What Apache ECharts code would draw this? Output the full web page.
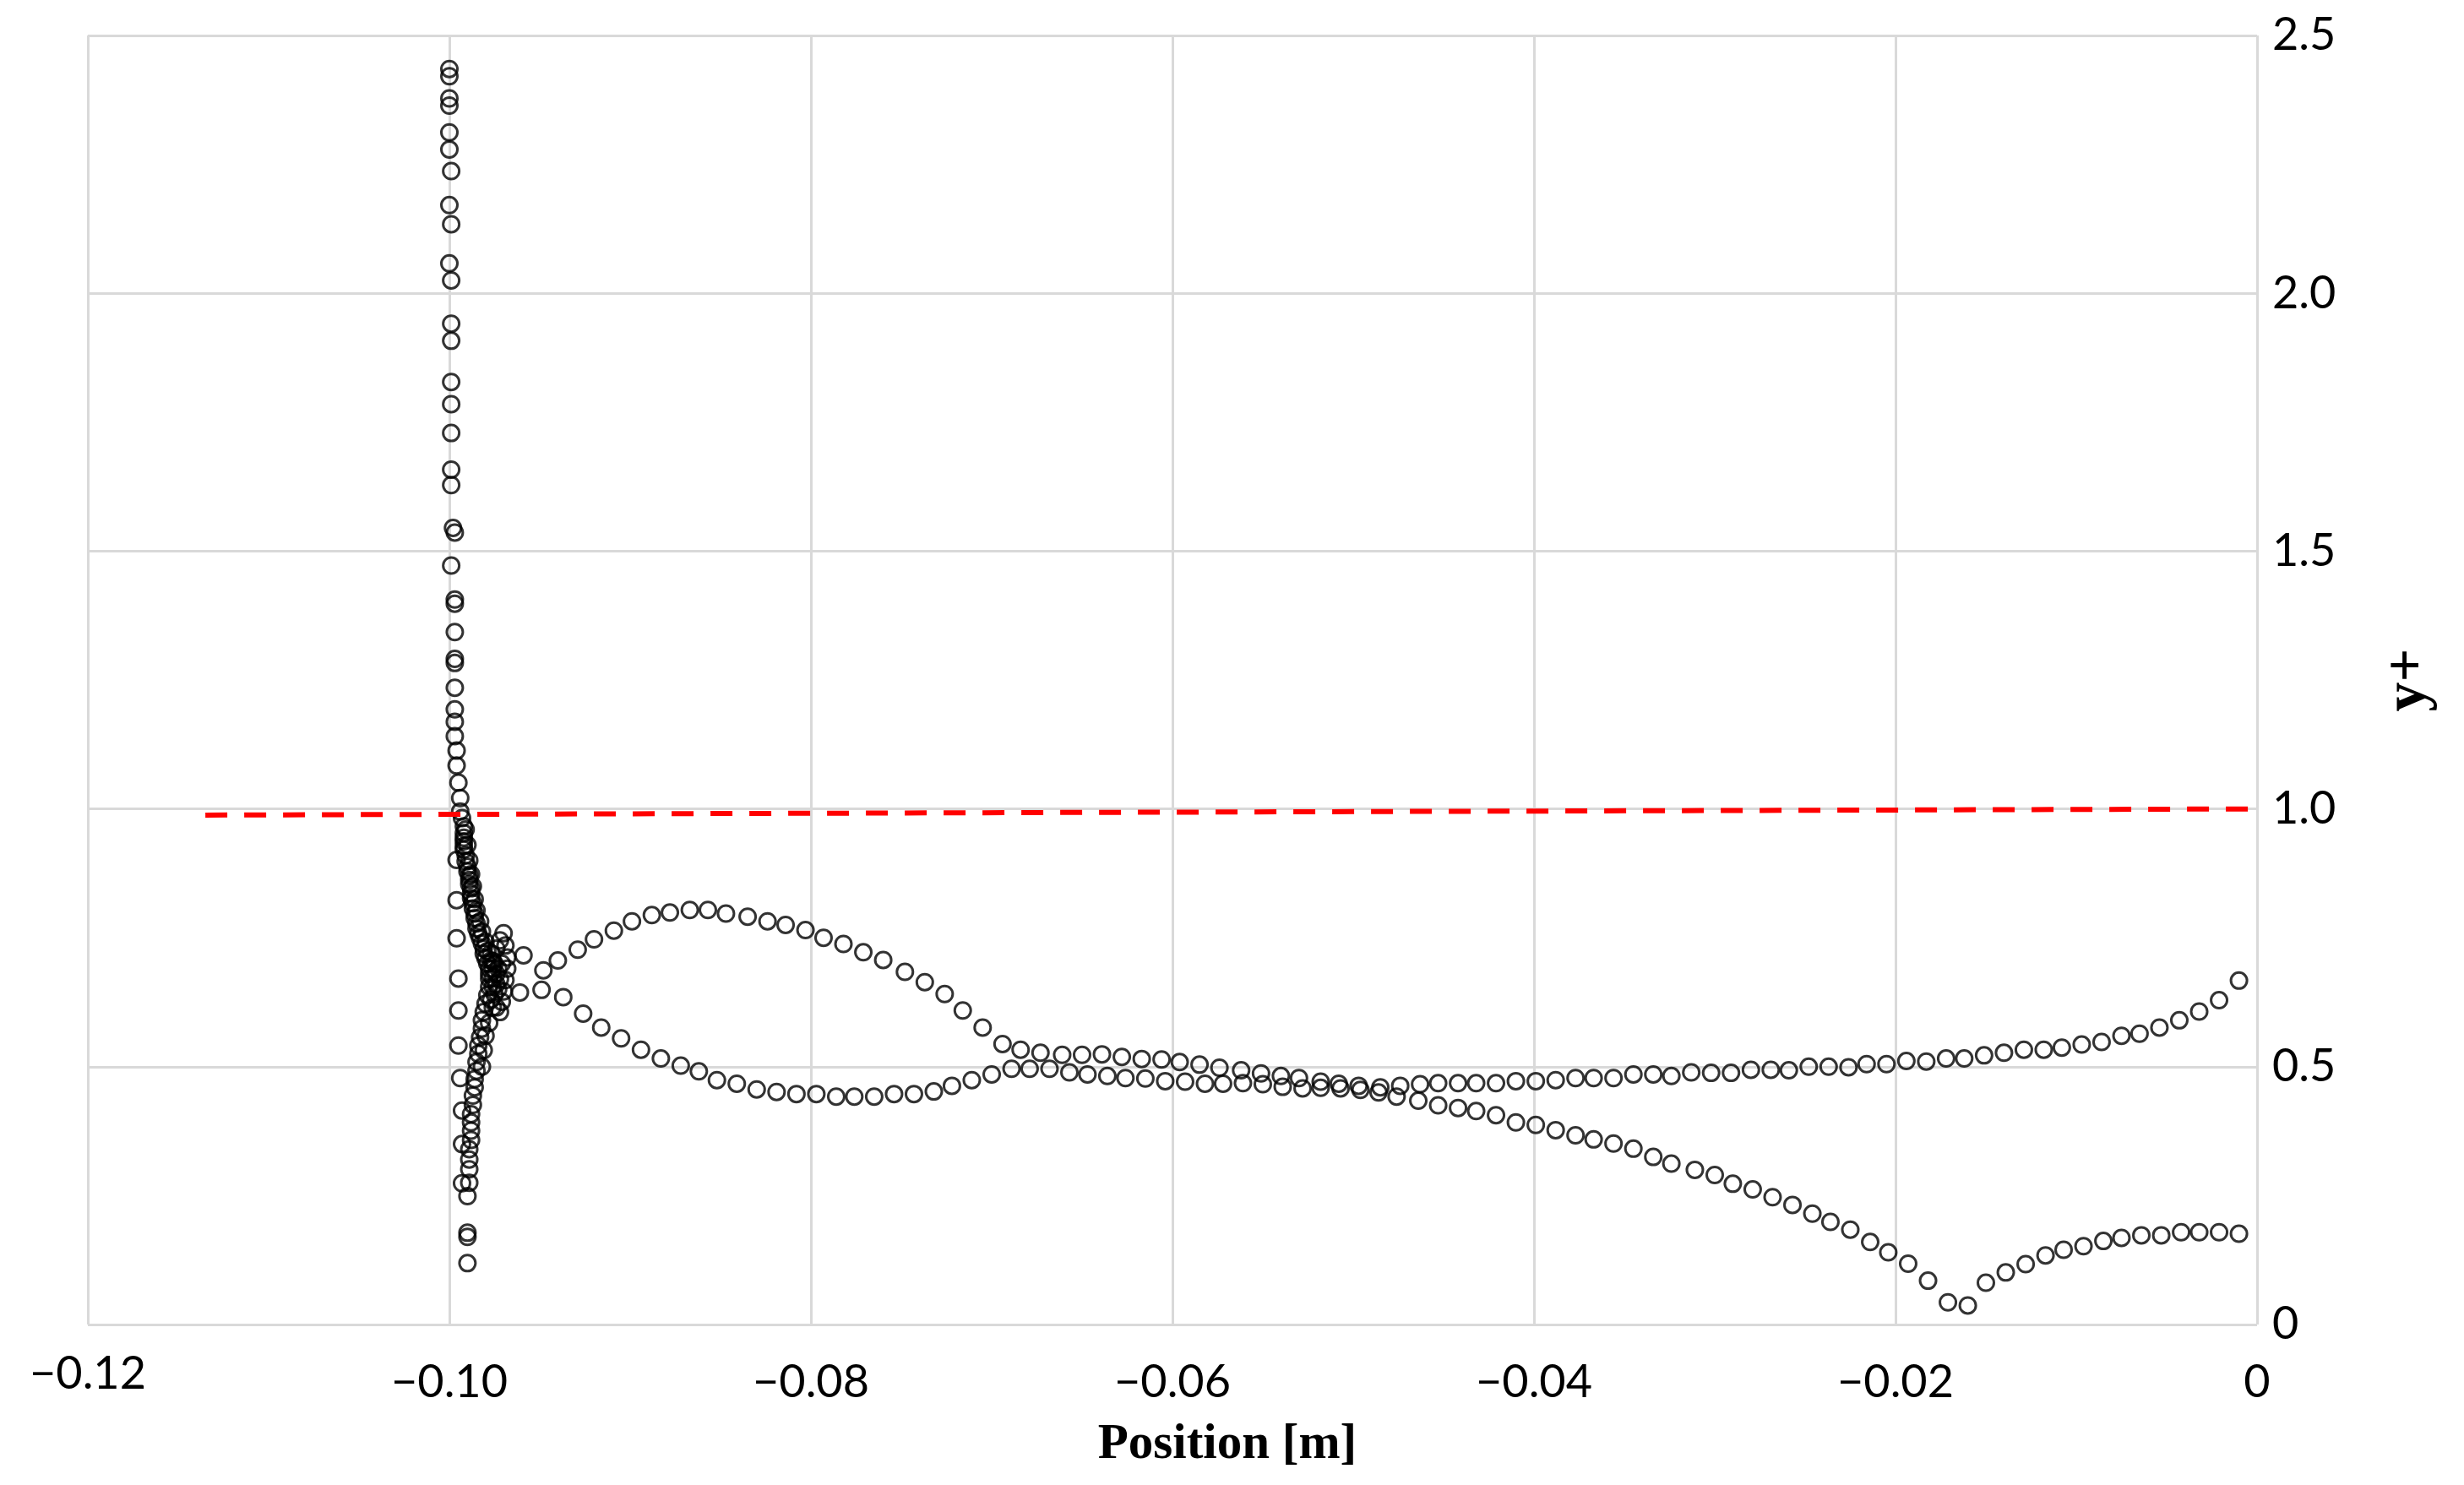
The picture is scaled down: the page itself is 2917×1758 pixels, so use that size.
<!DOCTYPE html>
<html>
<head>
<meta charset="utf-8">
<title>y+ vs Position</title>
<script src="https://cdn.jsdelivr.net/npm/echarts@6/dist/echarts.min.js"></script>
<style>
  html, body { margin: 0; padding: 0; background: #ffffff; }
  #chart { width: 2917px; height: 1758px; }
</style>
</head>
<body>
<div id="chart"></div>
<script>
// ---------------- DATA ----------------
const xTickLabels = ['\u22120.12', '\u22120.10', '\u22120.08', '\u22120.06', '\u22120.04', '\u22120.02', '0'];
const yTickLabels = ['0', '0.5', '1.0', '1.5', '2.0', '2.5'];

// Leading-edge column (upper part, y+ > 1)
const leadingEdgeUpper = [
  [-0.1000, 2.435], [-0.1000, 2.421], [-0.1000, 2.378], [-0.1000, 2.364], [-0.1000, 2.312],
  [-0.1000, 2.279], [-0.0999, 2.237], [-0.1000, 2.171], [-0.0999, 2.134], [-0.1000, 2.058],
  [-0.0999, 2.025], [-0.0999, 1.941], [-0.0999, 1.908], [-0.0999, 1.828], [-0.0999, 1.785],
  [-0.0999, 1.729], [-0.0999, 1.658], [-0.0999, 1.628], [-0.0998, 1.545], [-0.0997, 1.536],
  [-0.0999, 1.472], [-0.0997, 1.406], [-0.0997, 1.398], [-0.0997, 1.343], [-0.0997, 1.291],
  [-0.0997, 1.283], [-0.0997, 1.235], [-0.0997, 1.193], [-0.0997, 1.169], [-0.0997, 1.141],
  [-0.0996, 1.113], [-0.0996, 1.084], [-0.0995, 1.051], [-0.0994, 1.021], [-0.0994, 0.995]
];

// Leading-edge column (sparse outer points, y+ < 1)
const leadingEdgeOuter = [
  [-0.0996, 0.901], [-0.0996, 0.823], [-0.0996, 0.749], [-0.0995, 0.671], [-0.0995, 0.609],
  [-0.0995, 0.541], [-0.0994, 0.478], [-0.0993, 0.415], [-0.0993, 0.350], [-0.0993, 0.274],
  [-0.0990, 0.178], [-0.0990, 0.170], [-0.0990, 0.119]
];

// Dense band from y+ = 1 down to the junction
const junctionUpper = [
  [-0.0993, 0.982], [-0.0992, 0.966], [-0.0992, 0.953], [-0.0992, 0.944], [-0.0992, 0.937],
  [-0.0992, 0.928], [-0.0992, 0.921], [-0.0991, 0.910], [-0.0991, 0.898], [-0.0990, 0.888],
  [-0.0990, 0.879], [-0.0989, 0.870], [-0.0989, 0.862], [-0.0989, 0.854], [-0.0988, 0.846],
  [-0.0988, 0.836], [-0.0988, 0.827], [-0.0987, 0.817], [-0.0987, 0.807], [-0.0986, 0.797],
  [-0.0986, 0.788], [-0.0985, 0.778], [-0.0985, 0.768], [-0.0984, 0.758], [-0.0983, 0.749],
  [-0.0982, 0.739], [-0.0981, 0.729], [-0.0981, 0.719], [-0.0980, 0.710], [-0.0979, 0.700],
  [-0.0978, 0.690], [-0.0978, 0.680], [-0.0978, 0.671]
];

// Second, slightly offset strand of the same band
const junctionUpperInner = [
  [-0.0991, 0.960], [-0.0990, 0.930], [-0.0989, 0.900], [-0.0988, 0.873], [-0.0987, 0.850],
  [-0.0986, 0.825], [-0.0985, 0.803], [-0.0983, 0.782], [-0.0982, 0.762], [-0.0980, 0.742],
  [-0.0979, 0.724], [-0.0977, 0.706], [-0.0976, 0.690]
];

// Points bunched at the junction
const junctionCore = [
  [-0.0970, 0.759], [-0.0969, 0.735], [-0.0968, 0.712], [-0.0968, 0.690], [-0.0969, 0.668],
  [-0.0970, 0.646], [-0.0971, 0.626], [-0.0972, 0.606], [-0.0975, 0.700], [-0.0974, 0.680],
  [-0.0974, 0.660], [-0.0975, 0.640], [-0.0976, 0.655], [-0.0974, 0.729], [-0.0977, 0.720],
  [-0.0976, 0.705], [-0.0973, 0.690], [-0.0972, 0.670], [-0.0973, 0.650], [-0.0977, 0.630],
  [-0.0972, 0.745], [-0.0974, 0.615], [-0.0971, 0.700], [-0.0976, 0.672]
];

// Dense band from the junction down
const junctionLower = [
  [-0.0978, 0.655], [-0.0979, 0.639], [-0.0980, 0.622], [-0.0981, 0.606], [-0.0982, 0.590],
  [-0.0982, 0.574], [-0.0983, 0.557], [-0.0984, 0.541], [-0.0984, 0.525], [-0.0985, 0.509],
  [-0.0985, 0.492], [-0.0986, 0.476], [-0.0986, 0.460], [-0.0987, 0.444], [-0.0987, 0.426],
  [-0.0988, 0.408], [-0.0988, 0.392], [-0.0988, 0.376], [-0.0988, 0.358], [-0.0989, 0.340],
  [-0.0989, 0.320], [-0.0989, 0.301], [-0.0989, 0.275], [-0.0990, 0.249],
  [-0.0976, 0.615], [-0.0978, 0.585], [-0.0980, 0.560], [-0.0981, 0.532], [-0.0982, 0.500]
];

// Surface A: rises to the 0.8 peak, then falls to the minimum near -0.016
const surfaceA = [
  [-0.0961, 0.644], [-0.0948, 0.687], [-0.0940, 0.706], [-0.0929, 0.727], [-0.0920, 0.747],
  [-0.0909, 0.764], [-0.0899, 0.782], [-0.0888, 0.794], [-0.0878, 0.799], [-0.0867, 0.804],
  [-0.0857, 0.804], [-0.0847, 0.797], [-0.0835, 0.791], [-0.0824, 0.782], [-0.0814, 0.775],
  [-0.0803, 0.765], [-0.0793, 0.750], [-0.0782, 0.738], [-0.0771, 0.722], [-0.0760, 0.707],
  [-0.0748, 0.684], [-0.0737, 0.664], [-0.0726, 0.641], [-0.0716, 0.609], [-0.0705, 0.576],
  [-0.0694, 0.544], [-0.0684, 0.533], [-0.0673, 0.527], [-0.0661, 0.523], [-0.0650, 0.523],
  [-0.0639, 0.524], [-0.0628, 0.519], [-0.0617, 0.515], [-0.0606, 0.514], [-0.0596, 0.509],
  [-0.0585, 0.504], [-0.0574, 0.498], [-0.0562, 0.493], [-0.0551, 0.487], [-0.0540, 0.482],
  [-0.0530, 0.478], [-0.0518, 0.471], [-0.0508, 0.467], [-0.0497, 0.463], [-0.0486, 0.450],
  [-0.0476, 0.442], [-0.0464, 0.434], [-0.0453, 0.425], [-0.0442, 0.420], [-0.0432, 0.414],
  [-0.0421, 0.406], [-0.0410, 0.392], [-0.0399, 0.387], [-0.0388, 0.377], [-0.0377, 0.367],
  [-0.0367, 0.359], [-0.0356, 0.351], [-0.0345, 0.341], [-0.0334, 0.325], [-0.0324, 0.312],
  [-0.0311, 0.300], [-0.0300, 0.290], [-0.0290, 0.273], [-0.0279, 0.262], [-0.0268, 0.247],
  [-0.0257, 0.232], [-0.0246, 0.215], [-0.0236, 0.199], [-0.0225, 0.184], [-0.0214, 0.160],
  [-0.0204, 0.140], [-0.0193, 0.118], [-0.0182, 0.085], [-0.0171, 0.043], [-0.0160, 0.037],
  [-0.0150, 0.081], [-0.0139, 0.101], [-0.0128, 0.117], [-0.0117, 0.134], [-0.0107, 0.145],
  [-0.0096, 0.152], [-0.0085, 0.162], [-0.0075, 0.168], [-0.0064, 0.173], [-0.0053, 0.173],
  [-0.0042, 0.179], [-0.0032, 0.179], [-0.0021, 0.179], [-0.0010, 0.176]
];

// Surface B: falls to the 0.44 valley, stays near 0.5, rises to 0.67
const surfaceB = [
  [-0.0959, 0.716], [-0.0949, 0.649], [-0.0937, 0.635], [-0.0926, 0.603], [-0.0916, 0.576],
  [-0.0905, 0.555], [-0.0894, 0.533], [-0.0883, 0.516], [-0.0872, 0.502], [-0.0862, 0.491],
  [-0.0852, 0.474], [-0.0841, 0.467], [-0.0830, 0.456], [-0.0819, 0.451], [-0.0808, 0.447],
  [-0.0797, 0.447], [-0.0786, 0.442], [-0.0776, 0.442], [-0.0765, 0.442], [-0.0754, 0.447],
  [-0.0743, 0.447], [-0.0732, 0.452], [-0.0722, 0.463], [-0.0711, 0.474], [-0.0700, 0.485],
  [-0.0689, 0.496], [-0.0679, 0.496], [-0.0668, 0.496], [-0.0657, 0.489], [-0.0647, 0.485],
  [-0.0636, 0.482], [-0.0626, 0.478], [-0.0615, 0.477], [-0.0604, 0.472], [-0.0593, 0.471],
  [-0.0582, 0.467], [-0.0572, 0.467], [-0.0561, 0.468], [-0.0550, 0.466], [-0.0539, 0.461],
  [-0.0528, 0.458], [-0.0518, 0.459], [-0.0507, 0.458], [-0.0496, 0.455], [-0.0485, 0.460],
  [-0.0474, 0.463], [-0.0463, 0.466], [-0.0453, 0.468], [-0.0442, 0.468], [-0.0432, 0.468],
  [-0.0421, 0.468], [-0.0410, 0.472], [-0.0399, 0.472], [-0.0388, 0.474], [-0.0377, 0.478],
  [-0.0367, 0.478], [-0.0356, 0.478], [-0.0345, 0.485], [-0.0334, 0.485], [-0.0324, 0.482],
  [-0.0313, 0.489], [-0.0302, 0.488], [-0.0291, 0.488], [-0.0280, 0.494], [-0.0269, 0.494],
  [-0.0259, 0.493], [-0.0248, 0.500], [-0.0237, 0.500], [-0.0226, 0.499], [-0.0216, 0.505],
  [-0.0205, 0.505], [-0.0194, 0.511], [-0.0183, 0.510], [-0.0172, 0.516], [-0.0162, 0.516],
  [-0.0151, 0.522], [-0.0140, 0.527], [-0.0129, 0.533], [-0.0118, 0.533], [-0.0108, 0.537],
  [-0.0097, 0.543], [-0.0086, 0.548], [-0.0075, 0.560], [-0.0065, 0.564], [-0.0054, 0.576],
  [-0.0043, 0.590], [-0.0032, 0.607], [-0.0021, 0.629], [-0.0010, 0.667]
];

// Reference line y+ = 1 (red dashed)
const referenceLine = [[-0.1135, 0.988], [0.0, 1.0]];

// ---------------- CHART ----------------
const chart = echarts.init(document.getElementById('chart'), null, { renderer: 'canvas' });

const tickFont = 'Lato';
const nameFont = '"Liberation Serif", "Times New Roman", serif';

function scatterSeries(name, data) {
  return {
    name: name,
    type: 'scatter',
    data: data,
    symbol: 'circle',
    symbolSize: 19,
    itemStyle: { color: 'rgba(0,0,0,0)', borderColor: '#000000', borderWidth: 3 },
    emphasis: { disabled: true },
    z: 3
  };
}

const option = {
  backgroundColor: '#ffffff',
  animation: false,
  grid: { left: 104, right: 245, top: 42, bottom: 190, containLabel: false },
  xAxis: {
    type: 'value',
    min: -0.12,
    max: 0,
    interval: 0.02,
    name: 'Position [m]',
    nameLocation: 'middle',
    nameGap: 113,
    nameTextStyle: {
      fontFamily: nameFont, fontWeight: 'bold', fontSize: 59, color: '#000000',
      padding: [0, 0, 0, 130]
    },
    axisLine: { show: false },
    axisTick: { show: false },
    splitLine: { show: true, lineStyle: { color: '#d9d9d9', width: 3 } },
    axisLabel: {
      margin: 32,
      formatter: function (v, i) {
        return i === 0 ? '{hi|' + xTickLabels[i] + '}' : '{n|' + xTickLabels[i] + '}';
      },
      rich: {
        hi: { fontFamily: tickFont, fontSize: 54, color: '#000000', padding: [0, 0, 10, 0] },
        n: { fontFamily: tickFont, fontSize: 54, color: '#000000', padding: [10, 0, 0, 0] }
      }
    }
  },
  yAxis: {
    type: 'value',
    position: 'right',
    min: 0,
    max: 2.5,
    interval: 0.5,
    name: 'y+',
    nameLocation: 'middle',
    nameRotate: 90,
    nameGap: 145,
    nameTextStyle: { fontFamily: nameFont, fontWeight: 'bold', fontSize: 70, color: '#000000' },
    axisLine: { show: false },
    axisTick: { show: false },
    splitLine: { show: true, lineStyle: { color: '#d9d9d9', width: 3 } },
    axisLabel: {
      margin: 18,
      fontFamily: tickFont,
      fontSize: 54,
      color: '#000000',
      formatter: function (v, i) { return yTickLabels[i]; }
    }
  },
  series: [
    scatterSeries('Leading edge upper', leadingEdgeUpper),
    scatterSeries('Leading edge outer', leadingEdgeOuter),
    scatterSeries('Junction upper', junctionUpper),
    scatterSeries('Junction upper inner', junctionUpperInner),
    scatterSeries('Junction core', junctionCore),
    scatterSeries('Junction lower', junctionLower),
    scatterSeries('Surface A', surfaceA),
    scatterSeries('Surface B', surfaceB),
    {
      name: 'y+ = 1',
      type: 'line',
      data: referenceLine,
      symbol: 'none',
      lineStyle: { color: '#ff0000', width: 6, type: [26, 20] },
      emphasis: { disabled: true },
      z: 5
    }
  ]
};

chart.setOption(option);
</script>
</body>
</html>
